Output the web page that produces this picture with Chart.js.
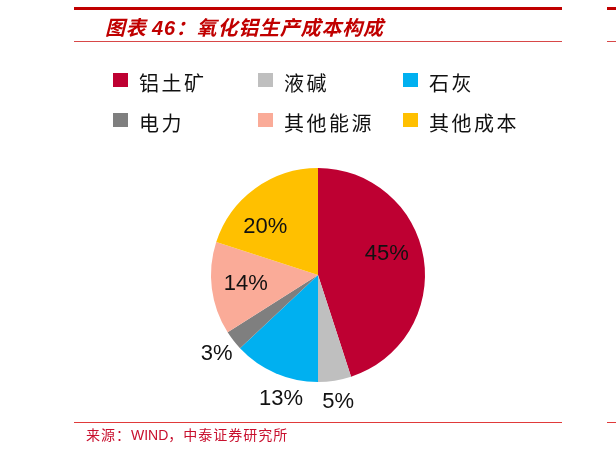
<!DOCTYPE html>
<html>
<head>
<meta charset="utf-8">
<script src="https://cdn.jsdelivr.net/npm/chart.js@4"></script>
<style>
  html, body { margin: 0; padding: 0; background: #fff; }
  #page { position: relative; width: 616px; height: 453px; overflow: hidden; }
  #page canvas { position: absolute; left: 0; top: 0; }
  .rule { position: absolute; background: #C00000; }
  .title { position: absolute; left: 105px; top: 12px; color: #C00000; font: italic bold 20px "Noto Sans CJK SC", sans-serif; letter-spacing: 0.8px; white-space: nowrap; }
  .title .num { font-family: "Liberation Sans", Arial, sans-serif; }
  .legend-item { position: absolute; height: 24px; line-height: 24px; font: 20px "Noto Sans CJK SC", sans-serif; letter-spacing: 2.5px; color: #111; white-space: nowrap; }
  .legend-box { position: absolute; width: 15px; height: 14px; }
  .source { position: absolute; left: 86px; top: 424px; color: #C8102E; font: 14px "Noto Sans CJK SC", sans-serif; letter-spacing: 1px; white-space: nowrap; }
  .source .lat { font-family: "Liberation Sans", Arial, sans-serif; letter-spacing: 0; }
</style>
</head>
<body>
<div id="page">
  <canvas id="pieChart" width="616" height="453"></canvas>
  <div class="rule" style="left:74px; top:7px; width:488px; height:3px;"></div>
  <div class="rule" style="left:607px; top:7px; width:9px; height:3px;"></div>
  <div class="title">图表 <span class="num">46</span>：氧化铝生产成本构成</div>
  <div class="rule" style="left:74px; top:41px; width:488px; height:1px; background:#D84848;"></div>
  <div class="rule" style="left:607px; top:41px; width:9px; height:1px; background:#D84848;"></div>
  <div id="legend"></div>
  <div class="rule" style="left:74px; top:422px; width:488px; height:1px; background:#E03A3A;"></div>
  <div class="rule" style="left:607px; top:422px; width:9px; height:1px; background:#E03A3A;"></div>
  <div class="source">来源：<span class="lat">WIND</span>，中泰证券研究所</div>
</div>
<script>
// Cost items and their share (%)
const categories = ['铝土矿', '液碱', '石灰', '电力', '其他能源', '其他成本'];
const shares = [45, 5, 13, 3, 14, 20];
const colors = ['#BE0032', '#BFBFBF', '#00B0F0', '#7F7F7F', '#FAAB98', '#FFC000'];

// Legend: 3 columns x 2 rows
function buildLegend() {
    const legend = document.getElementById('legend');
    const colX = [113, 258, 403];
    const rowY = [80, 120];
    categories.forEach((name, i) => {
        const x = colX[i % 3];
        const y = rowY[Math.floor(i / 3)];
        const box = document.createElement('div');
        box.className = 'legend-box';
        box.style.left = x + 'px';
        box.style.top = (y - 7) + 'px';
        box.style.background = colors[i];
        legend.appendChild(box);
        const label = document.createElement('div');
        label.className = 'legend-item';
        label.style.left = (x + 26) + 'px';
        label.style.top = (y - 12) + 'px';
        label.textContent = name;
        legend.appendChild(label);
    });
}
buildLegend();

// Percent labels drawn from each arc's geometry
const pieLabels = {
    id: 'pieLabels',
    afterDatasetsDraw(chart, args, opts) {
        const ctx = chart.ctx;
        const meta = chart.getDatasetMeta(0);
        ctx.save();
        ctx.font = '22px "Liberation Sans", Arial, sans-serif';
        ctx.fillStyle = '#111';
        ctx.textAlign = 'center';
        ctx.textBaseline = 'middle';
        meta.data.forEach((arc, i) => {
            const p = arc.getProps(['x', 'y', 'startAngle', 'endAngle', 'outerRadius'], true);
            const mid = (p.startAngle + p.endAngle) / 2;
            const outside = opts.outside.includes(i);
            const r = p.outerRadius * (outside ? 1.2 : 0.68);
            const nudge = opts.nudge[i] || [0, 0];
            const tx = p.x + Math.cos(mid) * r + nudge[0];
            const ty = p.y + Math.sin(mid) * r + nudge[1];
            ctx.fillText(shares[i] + '%', tx, ty);
        });
        ctx.restore();
    }
};

const ctx = document.getElementById('pieChart').getContext('2d');
const pieChart = new Chart(ctx, {
    type: 'pie',
    data: {
        labels: categories,
        datasets: [{
            data: shares,
            backgroundColor: colors,
            borderWidth: 0,
            hoverOffset: 0
        }]
    },
    options: {
        responsive: false,
        animation: false,
        devicePixelRatio: 1,
        layout: {
            padding: { left: 211, top: 168, right: 191, bottom: 71 }
        },
        plugins: {
            legend: { display: false },
            tooltip: { enabled: false },
            pieLabels: {
                outside: [1, 2, 3],
                nudge: { 0: [-3, -10], 2: [14, 6], 5: [-10, 11] }
            }
        }
    },
    plugins: [pieLabels]
});
</script>
</body>
</html>
